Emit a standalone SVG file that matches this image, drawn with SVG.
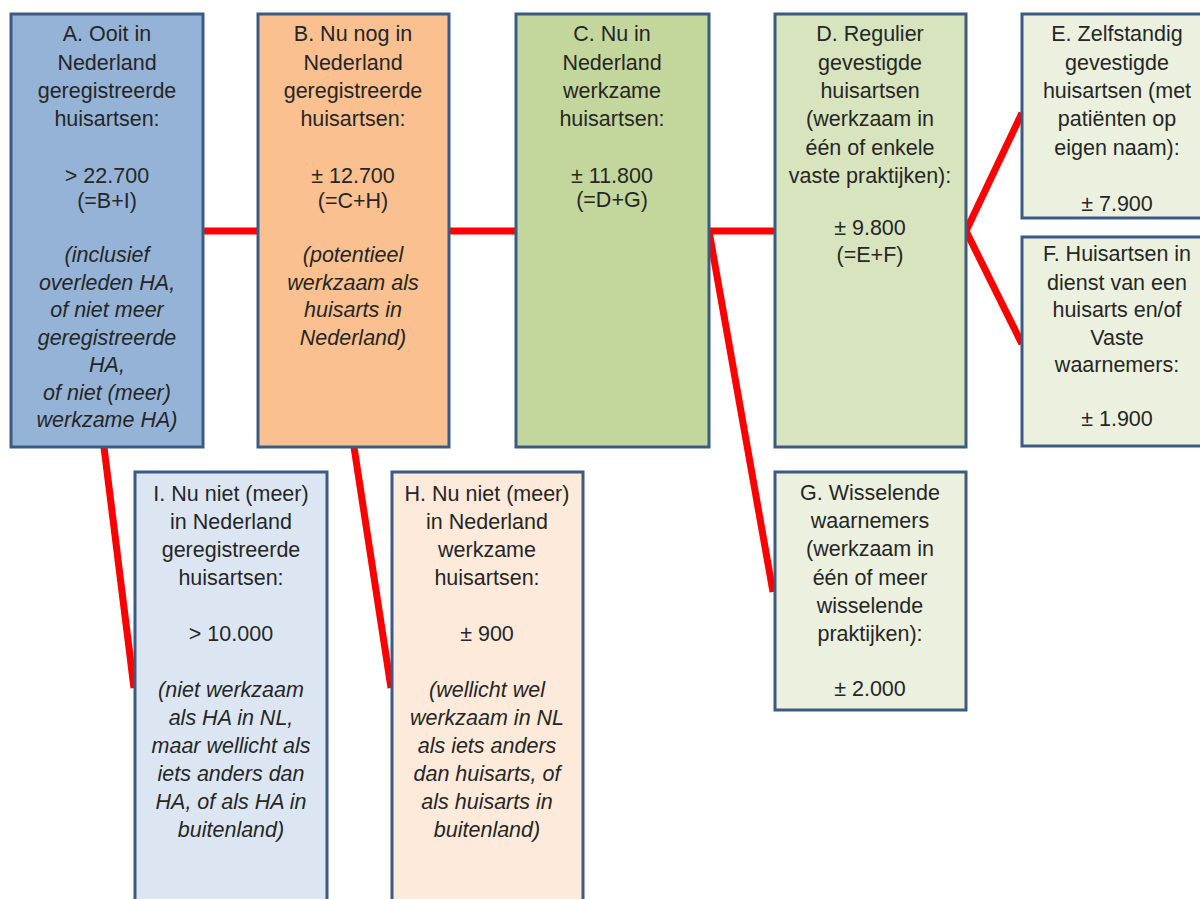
<svg xmlns="http://www.w3.org/2000/svg" width="1200" height="899" viewBox="0 0 1200 899">
<style>
.bx{stroke:#3B5A84;stroke-width:3}
.t{font-family:"Liberation Sans",Arial,sans-serif;font-size:21.5px;fill:#262626;text-anchor:middle}
.i{font-style:italic}
.c{stroke:#FF0000;stroke-width:7;fill:none;stroke-linecap:butt}
</style>
<rect width="1200" height="899" fill="#FFFFFF"/>
<g id="connectors">
<line class="c" x1="203" y1="231" x2="258" y2="231"/>
<line class="c" x1="449" y1="231" x2="516" y2="231"/>
<line class="c" x1="709" y1="231" x2="775" y2="231"/>
<line class="c" x1="709" y1="231" x2="773" y2="592"/>
<line class="c" x1="966" y1="231" x2="1022" y2="113"/>
<line class="c" x1="966" y1="231" x2="1022" y2="344"/>
<line class="c" x1="104" y1="447" x2="134" y2="688"/>
<line class="c" x1="354" y1="447" x2="391" y2="688"/>
</g>
<g id="nodeA">
<rect class="bx" x="11" y="14" width="192" height="433" fill="#95B3D7"/>
<text class="t" x="107" y="41">A. Ooit in</text>
<text class="t" x="107" y="70">Nederland</text>
<text class="t" x="107" y="98">geregistreerde</text>
<text class="t" x="107" y="126">huisartsen:</text>
<text class="t" x="107" y="183">&gt; 22.700</text>
<text class="t" x="107" y="208">(=B+I)</text>
<text class="t i" x="107" y="262">(inclusief</text>
<text class="t i" x="107" y="290">overleden HA,</text>
<text class="t i" x="107" y="317">of niet meer</text>
<text class="t i" x="107" y="345">geregistreerde</text>
<text class="t i" x="107" y="372">HA,</text>
<text class="t i" x="107" y="400">of niet (meer)</text>
<text class="t i" x="107" y="427">werkzame HA)</text>
</g>
<g id="nodeB">
<rect class="bx" x="258" y="14" width="191" height="433" fill="#FAC090"/>
<text class="t" x="353" y="41">B. Nu nog in</text>
<text class="t" x="353" y="70">Nederland</text>
<text class="t" x="353" y="98">geregistreerde</text>
<text class="t" x="353" y="126">huisartsen:</text>
<text class="t" x="353" y="183">± 12.700</text>
<text class="t" x="353" y="208">(=C+H)</text>
<text class="t i" x="353" y="262">(potentieel</text>
<text class="t i" x="353" y="290">werkzaam als</text>
<text class="t i" x="353" y="317">huisarts in</text>
<text class="t i" x="353" y="345">Nederland)</text>
</g>
<g id="nodeC">
<rect class="bx" x="516" y="14" width="193" height="433" fill="#C3D69B"/>
<text class="t" x="612" y="41">C. Nu in</text>
<text class="t" x="612" y="70">Nederland</text>
<text class="t" x="612" y="98">werkzame</text>
<text class="t" x="612" y="126">huisartsen:</text>
<text class="t" x="612" y="183">± 11.800</text>
<text class="t" x="612" y="207">(=D+G)</text>
</g>
<g id="nodeD">
<rect class="bx" x="775" y="14" width="191" height="433" fill="#D7E4BD"/>
<text class="t" x="870" y="41">D. Regulier</text>
<text class="t" x="870" y="70">gevestigde</text>
<text class="t" x="870" y="98">huisartsen</text>
<text class="t" x="870" y="126">(werkzaam in</text>
<text class="t" x="870" y="155">één of enkele</text>
<text class="t" x="870" y="183">vaste praktijken):</text>
<text class="t" x="870" y="235">± 9.800</text>
<text class="t" x="870" y="262">(=E+F)</text>
</g>
<g id="nodeE">
<rect class="bx" x="1022" y="14" width="190" height="204" fill="#EBF1DE"/>
<text class="t" x="1117" y="41">E. Zelfstandig</text>
<text class="t" x="1117" y="70">gevestigde</text>
<text class="t" x="1117" y="98">huisartsen (met</text>
<text class="t" x="1117" y="126">patiënten op</text>
<text class="t" x="1117" y="155">eigen naam):</text>
<text class="t" x="1117" y="211">± 7.900</text>
</g>
<g id="nodeF">
<rect class="bx" x="1022" y="237" width="190" height="209" fill="#EBF1DE"/>
<text class="t" x="1117" y="261">F. Huisartsen in</text>
<text class="t" x="1117" y="290">dienst van een</text>
<text class="t" x="1117" y="317">huisarts en/of</text>
<text class="t" x="1117" y="345">Vaste</text>
<text class="t" x="1117" y="372">waarnemers:</text>
<text class="t" x="1117" y="426">± 1.900</text>
</g>
<g id="nodeG">
<rect class="bx" x="775" y="472" width="191" height="238" fill="#EBF1DE"/>
<text class="t" x="870" y="500">G. Wisselende</text>
<text class="t" x="870" y="528">waarnemers</text>
<text class="t" x="870" y="556">(werkzaam in</text>
<text class="t" x="870" y="585">één of meer</text>
<text class="t" x="870" y="613">wisselende</text>
<text class="t" x="870" y="641">praktijken):</text>
<text class="t" x="870" y="696">± 2.000</text>
</g>
<g id="nodeI">
<rect class="bx" x="135" y="472" width="192" height="440" fill="#DCE6F2"/>
<text class="t" x="231" y="501">I. Nu niet (meer)</text>
<text class="t" x="231" y="529">in Nederland</text>
<text class="t" x="231" y="557">geregistreerde</text>
<text class="t" x="231" y="585">huisartsen:</text>
<text class="t" x="231" y="641">&gt; 10.000</text>
<text class="t i" x="231" y="697">(niet werkzaam</text>
<text class="t i" x="231" y="725">als HA in NL,</text>
<text class="t i" x="231" y="753">maar wellicht als</text>
<text class="t i" x="231" y="781">iets anders dan</text>
<text class="t i" x="231" y="809">HA, of als HA in</text>
<text class="t i" x="231" y="837">buitenland)</text>
</g>
<g id="nodeH">
<rect class="bx" x="392" y="472" width="191" height="440" fill="#FDEADA"/>
<text class="t" x="487" y="501">H. Nu niet (meer)</text>
<text class="t" x="487" y="529">in Nederland</text>
<text class="t" x="487" y="557">werkzame</text>
<text class="t" x="487" y="585">huisartsen:</text>
<text class="t" x="487" y="641">± 900</text>
<text class="t i" x="487" y="697">(wellicht wel</text>
<text class="t i" x="487" y="725">werkzaam in NL</text>
<text class="t i" x="487" y="753">als iets anders</text>
<text class="t i" x="487" y="781">dan huisarts, of</text>
<text class="t i" x="487" y="809">als huisarts in</text>
<text class="t i" x="487" y="837">buitenland)</text>
</g>
</svg>
